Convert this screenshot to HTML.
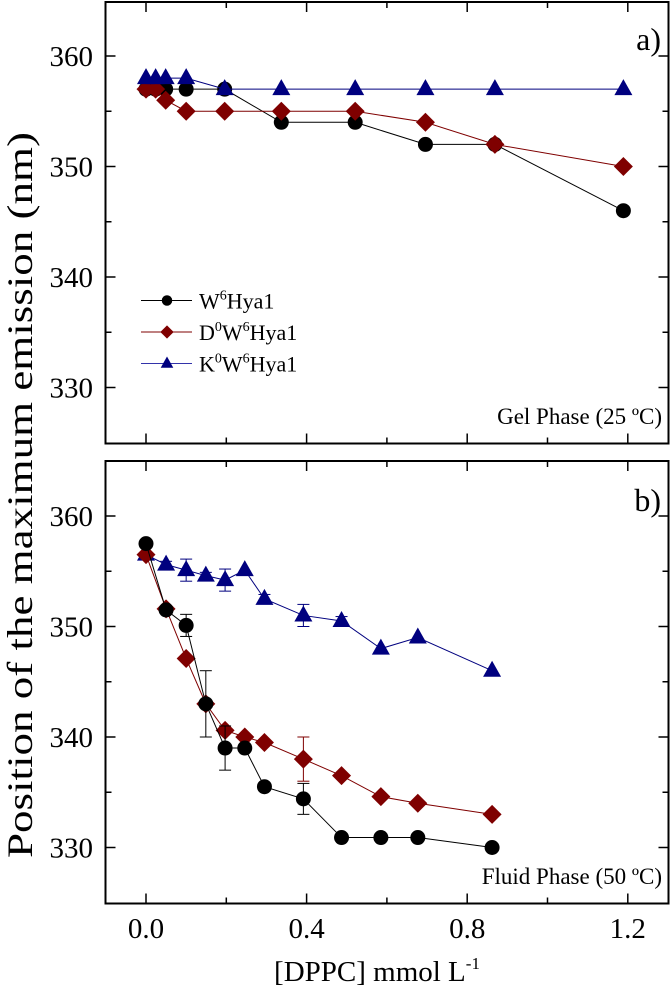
<!DOCTYPE html>
<html><head><meta charset="utf-8"><style>
html,body{margin:0;padding:0;background:#fff;}
svg{display:block;font-family:"Liberation Serif",serif;}
</style></head><body>
<svg id="chart" width="670" height="995" viewBox="0 0 670 995"></svg>
<script>
// Panel a data
const xA = [0, 0.024, 0.049, 0.1, 0.196, 0.337, 0.521, 0.696, 0.869, 1.189];
const wA = [357, 357, 357, 357, 357, 354, 354, 352, 352, 346];
const dA = [357, 357, 356, 355, 355, 355, 355, 354, 352, 350];
const kA = [358, 358, 358, 358, 357, 357, 357, 357, 357, 357];
// Panel b data
const xB = [0, 0.05, 0.1, 0.149, 0.197, 0.246, 0.295, 0.392, 0.487, 0.585, 0.677, 0.862];
const wB = [357.5, 351.5, 350.1, 343, 339, 339, 335.5, 334.4, 330.9, 330.9, 330.9, 330.0];
const wBerr = [0, 0, 1, 3, 2, 0, 0, 1.4, 0, 0, 0, 0];
const dB = [356.5, 351.6, 347.1, 343, 340.6, 340, 339.5, 338, 336.5, 334.6, 334, 333];
const dBerr = [0, 0, 0, 0, 0, 0, 0, 2, 0, 0, 0, 0];
const kB = [356.5, 355.6, 355.1, 354.6, 354.2, 355.1, 352.5, 351, 350.5, 348, 349, 346];
const kBerr = [0, 0.3, 1, 0.3, 1, 0, 0.4, 1, 0.4, 0, 0, 0];
const xTicks = ["0.0", "0.4", "0.8", "1.2"];
const yTicks = [330, 340, 350, 360];

const svg = document.getElementById('chart');
const NS = 'http://www.w3.org/2000/svg';
function mk(tag, attrs, parent) {
  const e = document.createElementNS(NS, tag);
  for (const k in attrs) e.setAttribute(k, attrs[k]);
  (parent || svg).appendChild(e);
  return e;
}
const X0 = 105.5, X1 = 668.5;
function xs(v) { return 146 + v * 401.5; }
const panels = [
  {top: 2, bot: 443.5, y360: 56, name: 'panel-a'},
  {top: 461, bot: 903.5, y360: 516, name: 'panel-b'}
];
const PPN = 11.05;
function ysF(p) { return v => p.y360 - (v - 360) * PPN; }

panels.forEach((p, pi) => {
  const g = mk('g', {});
  
  
  const ys = ysF(p);
  const fr = mk('rect', {x: X0, y: p.top, width: X1 - X0, height: p.bot - p.top, fill: 'none', stroke: '#000', 'stroke-width': 2}, g);
  
  
  for (let i = 0; i <= 6; i++) {
    const v = i * 0.2, x = xs(v), L = i % 2 === 0 ? 10 : 6;
    mk('line', {x1: x, x2: x, y1: p.bot, y2: p.bot - L, stroke: '#000', 'stroke-width': 1.5}, g);
    mk('line', {x1: x, x2: x, y1: p.top, y2: p.top + L, stroke: '#000', 'stroke-width': 1.5}, g);
  }
  for (let v = 325; v <= 365; v += 5) {
    const y = ys(v);
    if (y < p.top + 2 || y > p.bot - 2) continue;
    const L = v % 10 === 0 ? 10 : 6;
    mk('line', {x1: X0, x2: X0 + L, y1: y, y2: y, stroke: '#000', 'stroke-width': 1.5}, g);
    mk('line', {x1: X1, x2: X1 - L, y1: y, y2: y, stroke: '#000', 'stroke-width': 1.5}, g);
  }
  yTicks.forEach(v => {
    const t = mk('text', {x: 93, y: ys(v) + 10, 'text-anchor': 'end', 'font-size': 29}, g);
    t.textContent = v;
    
    
  });
  const lab = mk('text', {x: 661, y: pi === 0 ? 50 : 511, 'text-anchor': 'end', 'font-size': 32}, g);
  lab.textContent = pi === 0 ? 'a)' : 'b)';
  
  
  const ph = mk('text', {x: 662, y: pi === 0 ? 424 : 884, 'text-anchor': 'end', 'font-size': 23}, g);
  ph.textContent = pi === 0 ? 'Gel Phase (25 ºC)' : 'Fluid Phase (50 ºC)';
  
  
});

function marker(g, type, x, y, color, s) {
  s = s || 1;
  let e;
  if (type === 'c') e = mk('circle', {cx: x, cy: y, r: 7.5 * s, fill: color}, g);
  else if (type === 'd') e = mk('polygon', {points: `${x},${y-9.5*s} ${x+9.5*s},${y} ${x},${y+9.5*s} ${x-9.5*s},${y}`, fill: color}, g);
  else e = mk('polygon', {points: `${x},${y-10*s} ${x+9*s},${y+6*s} ${x-9*s},${y+6*s}`, fill: color}, g);
  return e;
}
function series(p, xv, yv, err, type, color, name) {
  const ys = ysF(p);
  const g = mk('g', {});
  
  
  mk('polyline', {points: xv.map((x, i) => xs(x) + ',' + ys(yv[i])).join(' '), fill: 'none', stroke: color, 'stroke-width': 1}, g);
  xv.forEach((x, i) => {
    const e = err ? err[i] : 0;
    if (e > 0) {
      const px = xs(x), y1 = ys(yv[i] + e), y2 = ys(yv[i] - e);
      mk('line', {x1: px, x2: px, y1: y1, y2: y2, stroke: color, 'stroke-width': 1}, g);
      mk('line', {x1: px - 6, x2: px + 6, y1: y1, y2: y1, stroke: color, 'stroke-width': 1}, g);
      mk('line', {x1: px - 6, x2: px + 6, y1: y2, y2: y2, stroke: color, 'stroke-width': 1}, g);
    }
  });
  xv.forEach((x, i) => {
    const m = marker(g, type, xs(x), ys(yv[i]), color);
    
    
  });
}
const BLK = '#000', RED = '#7f0000', BLU = '#00007f';
series(panels[0], xA, wA, null, 'c', BLK, 'w6hya1-gel');
series(panels[0], xA, dA, null, 'd', RED, 'd0w6hya1-gel');
series(panels[0], xA, kA, null, 't', BLU, 'k0w6hya1-gel');
series(panels[1], xB, kB, kBerr, 't', BLU, 'k0w6hya1-fluid');
series(panels[1], xB, dB, dBerr, 'd', RED, 'd0w6hya1-fluid');
series(panels[1], xB, wB, wBerr, 'c', BLK, 'w6hya1-fluid');

const leg = mk('g', {});


const legItems = [['c', BLK, 'W'], ['d', RED, 'D'], ['t', '#3333aa', 'K']];
legItems.forEach((it, i) => {
  const y = 300.5 + i * 31.5;
  mk('line', {x1: 141, x2: 192, y1: y, y2: y, stroke: it[1], 'stroke-width': 1}, leg);
  marker(leg, it[0], 167, y, i === 2 ? BLU : it[1], 0.7);
  const t = mk('text', {x: 199, y: y + 8, 'font-size': 22}, leg);
  
  
  if (i === 0) {
    t.innerHTML = 'W<tspan dy="-9" font-size="14">6</tspan><tspan dy="9">Hya1</tspan>';
  } else {
    t.innerHTML = it[2] + '<tspan dy="-9" font-size="14">0</tspan><tspan dy="9">W</tspan><tspan dy="-9" font-size="14">6</tspan><tspan dy="9">Hya1</tspan>';
  }
});

xTicks.forEach(s => {
  const t = mk('text', {x: xs(parseFloat(s)), y: 938, 'text-anchor': 'middle', 'font-size': 29});
  t.textContent = s;
  
  
});
const xt = mk('text', {x: 377, y: 981, 'text-anchor': 'middle', 'font-size': 29});
xt.innerHTML = '[DPPC] mmol L<tspan dy="-12" font-size="17">-1</tspan>';


const yt = mk('text', {x: 0, y: 0, 'text-anchor': 'middle', 'font-size': 36, transform: 'translate(32,495) rotate(-90) scale(1.25,1)'});
yt.textContent = 'Position of the maximum emission (nm)';


</script>
</body></html>
